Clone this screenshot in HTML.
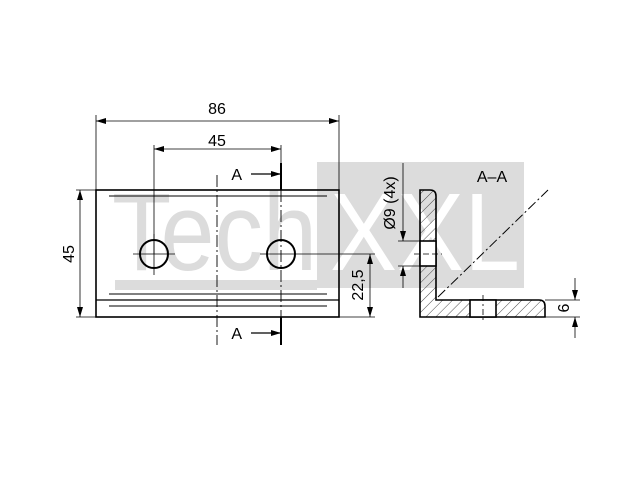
<!DOCTYPE html>
<html><head><style>body{margin:0;background:#fff}svg{display:block}</style></head><body>
<svg width="640" height="480" viewBox="0 0 640 480" xmlns="http://www.w3.org/2000/svg" font-family="Liberation Sans, sans-serif">
<defs>
<pattern id="h" width="7" height="7" patternUnits="userSpaceOnUse" patternTransform="rotate(45)"><line x1="0" y1="0" x2="0" y2="7" stroke="#000" stroke-width="0.7"/></pattern>
<marker id="a" markerWidth="10" markerHeight="6" refX="10" refY="3" orient="auto" markerUnits="userSpaceOnUse"><path d="M0,0 L10,3 L0,6z" fill="#000"/></marker>
</defs>
<!-- watermark -->
<rect x="317" y="162" width="207" height="126" fill="#dcdcdc"/>
<rect x="115" y="280" width="202" height="10" fill="#dcdcdc"/>
<text x="112" y="270" font-size="110" fill="#dcdcdc" textLength="205" lengthAdjust="spacingAndGlyphs">Tech</text>
<text x="330" y="270" font-size="110" fill="#fff" textLength="190" lengthAdjust="spacingAndGlyphs">XXL</text>
<g stroke="#000" fill="none">
<!-- main plate -->
<rect x="96" y="190" width="243" height="127" stroke-width="1.6"/>
<line x1="109" y1="196" x2="327" y2="196"/>
<line x1="109" y1="294" x2="327" y2="294"/>
<line x1="96" y1="300" x2="339" y2="300" stroke-width="1.2"/>
<line x1="109" y1="306" x2="327" y2="306"/>
<circle cx="154" cy="254" r="14" stroke-width="2"/>
<circle cx="281" cy="254" r="14" stroke-width="2"/>
<line x1="133" y1="254" x2="175" y2="254" stroke-width="0.8"/>
<line x1="154" y1="234" x2="154" y2="275" stroke-width="0.8"/>
<line x1="260" y1="254" x2="375" y2="254" stroke-width="0.8"/>
<line x1="217" y1="175" x2="217" y2="345" stroke-dasharray="12,3,2,3" stroke-width="0.9"/>
<line x1="281" y1="163" x2="281" y2="190" stroke-width="2"/>
<line x1="281" y1="317" x2="281" y2="345" stroke-width="2"/>
<line x1="281" y1="190" x2="281" y2="317" stroke-dasharray="12,3,2,3" stroke-width="0.9"/>
<line x1="251" y1="174" x2="281" y2="174" marker-end="url(#a)" stroke-width="1.2"/>
<line x1="251" y1="333" x2="281" y2="333" marker-end="url(#a)" stroke-width="1.2"/>
<!-- dims -->
<g stroke-width="0.8">
<line x1="96" y1="115" x2="96" y2="190"/><line x1="339" y1="115" x2="339" y2="190"/>
<line x1="217" y1="121" x2="96" y2="121" marker-end="url(#a)"/><line x1="217" y1="121" x2="339" y2="121" marker-end="url(#a)"/>
<line x1="154" y1="145" x2="154" y2="254"/><line x1="281" y1="145" x2="281" y2="163"/>
<line x1="217" y1="149" x2="154" y2="149" marker-end="url(#a)"/><line x1="217" y1="149" x2="281" y2="149" marker-end="url(#a)"/>
<line x1="76" y1="190" x2="96" y2="190"/><line x1="76" y1="317" x2="96" y2="317"/>
<line x1="80" y1="254" x2="80" y2="190" marker-end="url(#a)"/><line x1="80" y1="254" x2="80" y2="317" marker-end="url(#a)"/>
<line x1="339" y1="317" x2="375" y2="317"/>
<line x1="370" y1="285" x2="370" y2="254" marker-end="url(#a)"/><line x1="370" y1="285" x2="370" y2="317" marker-end="url(#a)"/>
</g>
<!-- section -->
<path d="M420,190 H430 Q436,190 436,196 V300 H539 Q545,300 545,306 V317 H420 Z" fill="url(#h)" stroke-width="1.6"/>
<rect x="420" y="241" width="16" height="25" fill="#fff" stroke-width="1.6"/>
<rect x="470" y="300" width="26" height="17" fill="#fff" stroke-width="1.6"/>
<line x1="414" y1="254" x2="442" y2="254" stroke-dasharray="6,3" stroke-width="0.8"/>
<line x1="483" y1="295" x2="483" y2="322" stroke-dasharray="6,3,2,3" stroke-width="0.8"/>
<line x1="438" y1="297" x2="548" y2="190" stroke-dasharray="10,3,2,3" stroke-width="1"/>
<g stroke-width="0.8">
<line x1="398" y1="241" x2="420" y2="241"/><line x1="398" y1="266" x2="420" y2="266"/>
<line x1="403" y1="163" x2="403" y2="241" marker-end="url(#a)"/><line x1="403" y1="288" x2="403" y2="266" marker-end="url(#a)"/>
<line x1="545" y1="300" x2="580" y2="300"/><line x1="545" y1="317" x2="580" y2="317"/>
<line x1="575" y1="278" x2="575" y2="300" marker-end="url(#a)"/><line x1="575" y1="338" x2="575" y2="317" marker-end="url(#a)"/>
</g>
</g>
<g font-size="16" fill="#000" text-anchor="middle">
<text x="217" y="114">86</text>
<text x="217" y="146">45</text>
<text x="242" y="180" text-anchor="end">A</text>
<text x="242" y="339" text-anchor="end">A</text>
<text transform="translate(74,254) rotate(-90)">45</text>
<text transform="translate(363,285) rotate(-90)">22,5</text>
<text transform="translate(395,203) rotate(-90)">Ø9 (4x)</text>
<text x="492" y="182">A–A</text>
<text transform="translate(569,308) rotate(-90)">6</text>
</g>
</svg>
</body></html>
